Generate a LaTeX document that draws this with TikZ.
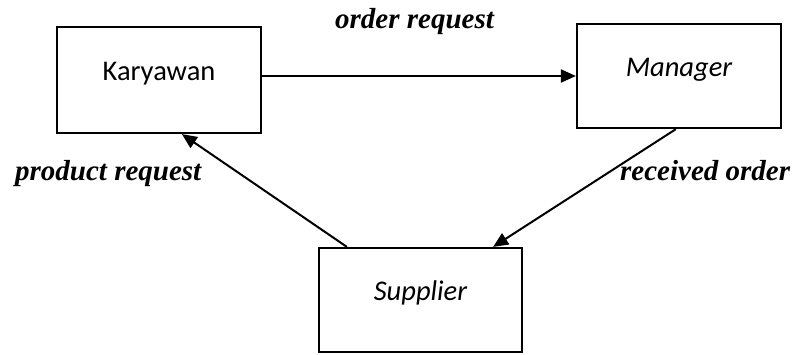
\documentclass[tikz,border=0pt]{standalone}
\usepackage{fontspec}
\setmainfont{Liberation Serif}
\newfontfamily\boxfont{Carlito}
\usetikzlibrary{arrows.meta,calc}
\begin{document}
\begin{tikzpicture}[x=1pt,y=-1pt,
  box/.style={draw, line width=2.2pt, inner sep=0pt, text height=12pt, text depth=12pt,
    font=\boxfont\fontsize{28.5}{34}\selectfont},
  flow/.style={line width=2pt, -{Triangle[length=15pt,width=13pt]}},
  lbl/.style={inner sep=0pt, anchor=base west, font=\bfseries\itshape\fontsize{29}{34}\selectfont}]
\useasboundingbox (0,0) rectangle (796,354);
\node[box, minimum width=204pt, minimum height=106pt] (k) at (159,80) {Karyawan};
\node[box, minimum width=204pt, minimum height=104pt] (m) at (679,76) {\itshape Manager};
\node[box, minimum width=203pt, minimum height=104pt] (s) at (420.5,300) {\itshape Supplier};
\draw[flow] (k.east |- m.west) -- (m.west);
\draw[flow] ([xshift=29pt]s.north west) -- ([xshift=126pt]k.south west);
\draw[flow] ([xshift=100pt]m.south west) -- ([xshift=-30pt]s.north east);
\node[lbl] (l1) at (335,28) {order request};
\node[lbl] (l2) at (15,180) {product request};
\node[lbl] (l3) at (620,180) {received order};
\end{tikzpicture}
\end{document}
